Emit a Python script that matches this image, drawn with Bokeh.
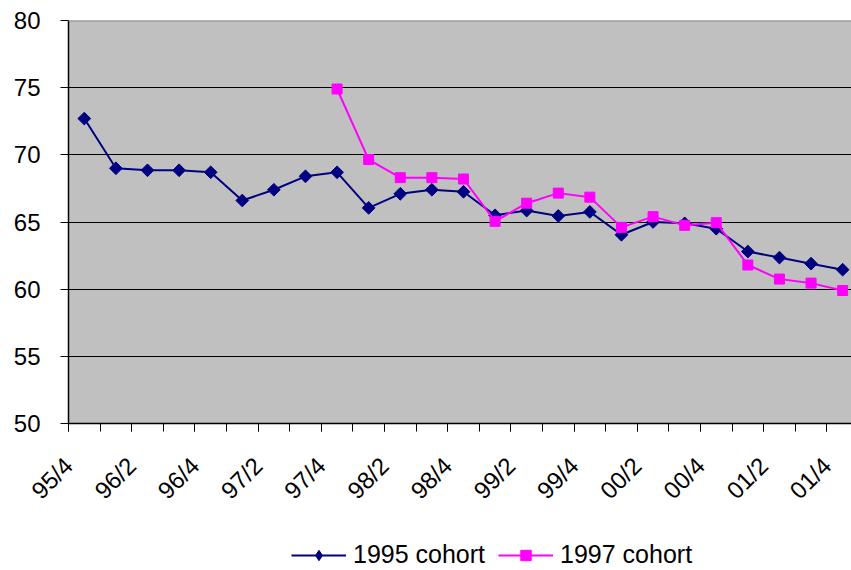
import math
from bokeh.plotting import figure
from bokeh.layouts import column
from bokeh.models import FixedTicker, Legend, LegendItem, Span, Range1d
from bokeh.embed import file_html
from bokeh.resources import INLINE

quarters = ["95/4",
            "96/1", "96/2", "96/3", "96/4",
            "97/1", "97/2", "97/3", "97/4",
            "98/1", "98/2", "98/3", "98/4",
            "99/1", "99/2", "99/3", "99/4",
            "00/1", "00/2", "00/3", "00/4",
            "01/1", "01/2", "01/3", "01/4"]
tick_labels = quarters[::2]

cohort_1995 = [72.7, 69.0, 68.85, 68.85, 68.7, 66.6, 67.4, 68.4, 68.7,
               66.05, 67.1, 67.4, 67.25, 65.5, 65.85, 65.45, 65.75,
               64.05, 65.0, 64.9, 64.5, 62.8, 62.35, 61.9, 61.45]
quarters_1997 = quarters[8:]
cohort_1997 = [74.9, 69.65, 68.3, 68.3, 68.2, 65.05, 66.4, 67.15, 66.85,
               64.6, 65.4, 64.75, 64.95, 61.8, 60.75, 60.45, 59.9]

x95 = [quarters.index(q) + 0.5 for q in quarters]
x97 = [quarters.index(q) + 0.5 for q in quarters_1997]

FONT = "Liberation Sans"
NAVY = "#000080"
MAG = "#FF00FF"

p = figure(width=851, height=522, output_backend="svg", toolbar_location=None,
           x_range=(0, 24.78), y_range=(50, 80),
           min_border_left=68, min_border_right=0, min_border_top=20,
           min_border_bottom=99)
p.background_fill_color = "#C0C0C0"
p.border_fill_color = "white"
p.outline_line_color = None

# axes
xa = p.xaxis[0]
label_pos = [quarters.index(q) for q in tick_labels]
xa.ticker = FixedTicker(ticks=label_pos,
                        minor_ticks=list(range(0, len(quarters) + 1)))
xa.major_label_overrides = {quarters.index(q): q for q in tick_labels}
xa.major_tick_out = 8
xa.major_tick_in = 0
xa.minor_tick_out = 8
xa.minor_tick_in = 0
xa.major_tick_line_color = "black"
xa.minor_tick_line_color = "black"
xa.axis_line_color = "black"
xa.axis_line_width = 1.5
xa.major_label_orientation = math.pi / 4
xa.major_label_standoff = 30
xa.major_label_text_font = FONT
xa.major_label_text_font_size = "24px"
xa.major_label_text_color = "black"

ya = p.yaxis[0]
ya.ticker = FixedTicker(ticks=[50, 55, 60, 65, 70, 75, 80])
ya.major_tick_out = 8
ya.major_tick_in = 0
ya.minor_tick_out = 0
ya.minor_tick_in = 0
ya.axis_line_color = "black"
ya.axis_line_width = 1.5
ya.major_label_standoff = 20
ya.major_label_text_font = FONT
ya.major_label_text_font_size = "24px"
ya.major_label_text_color = "black"

p.xgrid.visible = False
p.ygrid.ticker = FixedTicker(ticks=[55, 60, 65, 70, 75])
p.ygrid.grid_line_color = "black"
p.ygrid.grid_line_width = 1.2

p.add_layout(Span(location=80, dimension="width", line_color="#8c8c8c", line_width=2))

p.line(x95, cohort_1995, line_color=NAVY, line_width=2)
p.scatter(x95, cohort_1995, marker="square", angle=math.pi / 4, size=9,
          fill_color=NAVY, line_color=NAVY)
p.line(x97, cohort_1997, line_color=MAG, line_width=2)
p.scatter(x97, cohort_1997, marker="square", size=10,
          fill_color=MAG, line_color=MAG)

# legend strip below the chart (same series, outside this strip's visible range)
pl = figure(width=851, height=48, output_backend="svg", toolbar_location=None,
            x_range=Range1d(0, 1), y_range=Range1d(0, 1),
            min_border=0)
pl.axis.visible = False
pl.grid.visible = False
pl.outline_line_color = None
pl.background_fill_color = "white"
pl.border_fill_color = "white"

l1 = pl.line(x95, cohort_1995, line_color=NAVY, line_width=2)
m1 = pl.scatter(x95, cohort_1995, marker="diamond",
                fill_color=NAVY, line_color=NAVY)
l2 = pl.line(x97, cohort_1997, line_color=MAG, line_width=2)
m2 = pl.scatter(x97, cohort_1997, marker="square", fill_color=MAG, line_color=MAG)

legend = Legend(items=[LegendItem(label="1995 cohort", renderers=[l1, m1]),
                       LegendItem(label="1997 cohort", renderers=[l2, m2])],
                location=(223, 1), orientation="horizontal",
                label_text_font=FONT, label_text_font_size="25px",
                label_text_color="black",
                glyph_width=55, glyph_height=26, label_standoff=7,
                spacing=13, padding=0, margin=0,
                border_line_color=None, background_fill_alpha=0)
pl.add_layout(legend, "center")

layout = column(p, pl, spacing=0)

open("out.html", "w").write(file_html(layout, INLINE))
